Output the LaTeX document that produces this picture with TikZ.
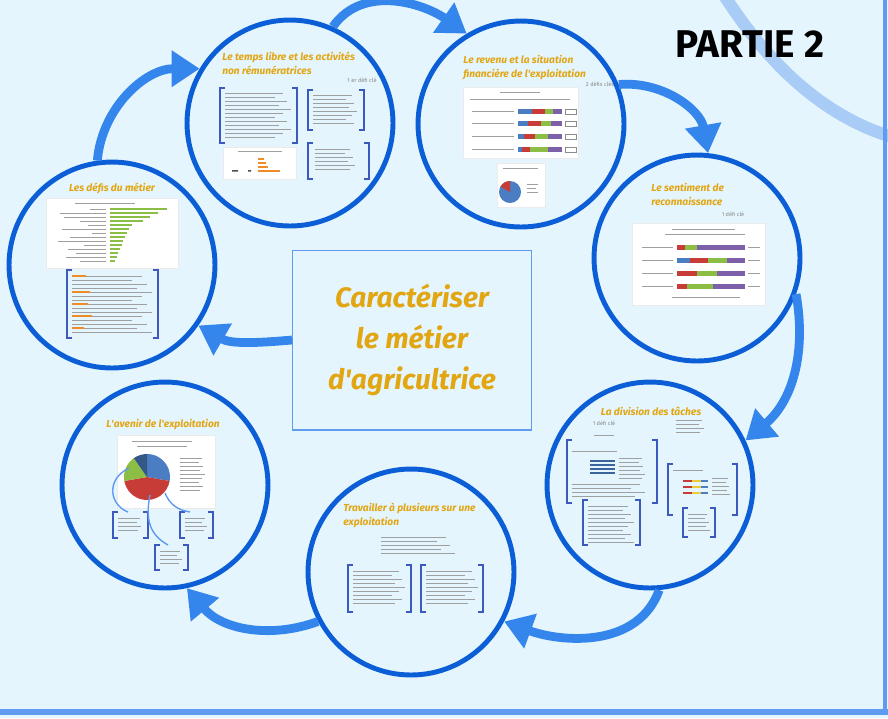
\documentclass[tikz,border=0pt]{standalone}
\usepackage{fontspec}
\setmainfont{Fira Sans}
\usetikzlibrary{positioning,arrows.meta,calc}
\definecolor{bgblue}{RGB}{228,245,253}
\definecolor{ringblue}{RGB}{12,94,215}
\definecolor{arrblue}{RGB}{52,134,236}
\definecolor{paleblue}{RGB}{168,204,246}
\definecolor{edgeblue}{RGB}{95,155,240}
\definecolor{titlegold}{RGB}{226,166,18}
\definecolor{brkblue}{RGB}{60,90,190}
\definecolor{txtgray}{RGB}{135,135,135}
\definecolor{barred}{RGB}{200,60,55}
\definecolor{bargreen}{RGB}{140,190,70}
\definecolor{barpurple}{RGB}{125,95,170}
\definecolor{barblue}{RGB}{75,125,195}
\definecolor{barorange}{RGB}{240,140,40}
\definecolor{baryellow}{RGB}{235,205,60}
\tikzset{
  ring/.style  = {circle, draw=ringblue, line width=2.8pt,
                  minimum size=4.12cm, inner sep=0pt},
  flow/.style  = {-{Triangle[length=16pt,width=20pt]}, line width=5pt, draw=arrblue},
  ttl/.style   = {font=\bfseries\itshape\fontsize{5.8}{7.8}\selectfont,
                  text=titlegold, align=left, inner sep=0pt},
  note/.style  = {font=\fontsize{3.2}{3.6}\selectfont, text=txtgray, inner sep=0pt},
  chart/.style = {fill=white, draw=black!8, line width=0.3pt},
  txt/.style   = {draw=txtgray!80, line width=0.5pt},
  brk/.style   = {draw=brkblue, line width=1pt}
}
% [ ] frame round a text block: x1 y1 x2 y2
\newcommand\bracketbox[4]{%
  \draw[brk] (#1+5,#2) -- (#1,#2) -- (#1,#4) -- (#1+5,#4);
  \draw[brk] (#3-5,#2) -- (#3,#2) -- (#3,#4) -- (#3-5,#4);}
% n grey lines standing for small text: x y width n
\newcommand\txtlines[4]{%
  \foreach \k in {1,...,#4}
    \draw[txt] (#1,{#2+4*(\k-1)}) -- ++({#3-mod(\k*7,5)*#3/16},0);}
\begin{document}
\begin{tikzpicture}[x=0.02cm, y=-0.02cm]
  \fill[bgblue] (0,0) rectangle (888,718);
  \useasboundingbox (0,0) rectangle (888,718);
  \draw[paleblue, line width=7pt] (722,-8) .. controls (765,60) and (820,115) .. (892,137);
  \draw[edgeblue, line width=2.2pt] (885,0) -- (885,712);
  \draw[edgeblue, line width=3.4pt] (0,712) -- (888,712);

  \node[font=\bfseries\fontsize{22}{22}\selectfont] (partie) at (750,44) {PARTIE 2};

  \node[draw=edgeblue, line width=0.6pt, minimum width=4.78cm, minimum height=3.6cm,
        font=\bfseries\itshape\fontsize{16}{23.5}\selectfont, text=titlegold,
        align=center] (centre) at (412,340) {Caractériser\\le métier\\d\textquotesingle agricultrice};

  \node[ring] (defis)     at (112,265) {};
  \node[ring] (temps)     at (290,123) {};
  \node[ring] (revenu)    at (521,124) {};
  \node[ring] (sentiment) at (697,258) {};
  \node[ring] (division)  at (650,485) {};
  \node[ring] (travail)   at (411,572) {};
  \node[ring] (avenir)    at (165,485) {};

  % arrows round the ring
  \draw[flow] (defis.98)       to[out=85, in=180]   (temps.149);
  \draw[flow] (temps.66)       to[out=55, in=145]   (revenu.121);
  \draw[flow] (revenu.22)      to[out=5, in=100]    (sentiment.84);
  \draw[flow] (sentiment.-20)  to[out=-80, in=40]   (division.25);
  \draw[flow] (division.-85)   to[out=-110, in=-20] (travail.-28);
  \draw[flow] (travail.208)    to[out=200, in=-50]  (avenir.-78);
  \draw[flow] (centre.west)    to[out=185, in=-30]  (defis.-35);

  % Les défis du métier
  \node[ttl] (defisT) at (112,188) {Les défis du métier};
  \fill[chart] (46,198) rectangle (178,268);
  \draw[txt] (75,203) -- (135,203);
  \foreach \y/\l/\s in {209/57/90, 213/48/60, 217/40/64, 221/33/80, 225/22/88, 229/19/62,
                        233/17/92, 237/15/70, 241/13/58, 245/12/84, 249/10/68, 253/8/76,
                        257/7/66, 261/5/80}
    { \fill[bargreen] (110,\y-1.2) rectangle ++(\l,2.4);
      \draw[txt, line width=0.4pt] (\s,\y) -- (106,\y); }
  \bracketbox{67}{270}{158}{338}
  \txtlines{72}{276}{80}{15}
  \foreach \y/\l in {276/14, 292/18, 304/16, 316/20, 328/12}
    \draw[barorange, line width=0.6pt] (72,\y) -- ++(\l,0);

  % Le temps libre et les activités non rémunératrices
  \node[ttl, anchor=north west] (tempsT) at (222,52) {Le temps libre et les activités\\non rémunératrices};
  \node[note] at (362,80) {1 er défi clé};
  \bracketbox{220}{88}{297}{143}
  \txtlines{225}{93}{66}{12}
  \bracketbox{308}{90}{364}{130}
  \txtlines{313}{95}{44}{8}
  \fill[chart] (223,147) rectangle (296,179);
  \draw[txt] (238,151) -- (282,151);
  \foreach \y/\l in {159/6, 163/8, 167/10, 171/22}
    \fill[barorange] (258,\y-1) rectangle ++(\l,2);
  \fill[black!70] (232,170) rectangle ++(6,1.5) (248,170) rectangle ++(3,1.5);
  \bracketbox{308}{143}{369}{179}
  \txtlines{315}{149}{40}{6}

  % Le revenu et la situation financière de l'exploitation
  \node[ttl, anchor=north west] (revenuT) at (463,55) {Le revenu et la situation\\financière de l\textquotesingle exploitation};
  \node[note] at (600,84) {2 défis clés};
  \fill[chart] (463,87) rectangle (578,158);
  \draw[txt] (500,92) -- (540,92);
  \draw[txt, line width=0.3pt] (470,99) -- (570,99);
  \foreach \y/\a/\b/\c in {109/532/545/553, 121/528/541/551, 134/524/535/548, 147/522/530/548}
    { \fill[barblue]   (518,\y) rectangle (\a,\y+5);
      \fill[barred]    (\a,\y)  rectangle (\b,\y+5);
      \fill[bargreen]  (\b,\y)  rectangle (\c,\y+5);
      \fill[barpurple] (\c,\y)  rectangle (562,\y+5);
      \draw[txt, line width=0.4pt] (472,\y+2.5) -- (514,\y+2.5);
      \draw[black!45, line width=0.3pt] (565,\y) rectangle (576,\y+5); }
  \fill[chart] (497,163) rectangle (545,207);
  \draw[txt] (503,168) -- (538,168);
  \fill[barblue] (510,192) circle[radius=11];
  \fill[barred] (510,192) -- ++(-90:11) arc[start angle=-90, end angle=-150, radius=11] -- cycle;
  \txtlines{527}{184}{12}{3}

  % Le sentiment de reconnaissance
  \node[ttl, anchor=north west] (sentimentT) at (651,183) {Le sentiment de\\reconnaissance};
  \node[note] at (733,214) {1 défi clé};
  \fill[chart] (632,223) rectangle (765,305);
  \draw[txt] (672,229) -- (735,229);
  \draw[txt, line width=0.3pt] (665,234) -- (745,234);
  \fill[barblue] (677,258) rectangle (690,263);
  \foreach \y/\a/\b/\c in {245/677/685/697, 258/690/708/727, 271/677/697/717, 284/677/687/713}
    { \fill[barred]    (\a,\y) rectangle (\b,\y+5);
      \fill[bargreen]  (\b,\y) rectangle (\c,\y+5);
      \fill[barpurple] (\c,\y) rectangle (745,\y+5);
      \draw[txt, line width=0.4pt] (642,\y+2.5) -- (673,\y+2.5);
      \draw[txt, line width=0.4pt] (748,\y+2.5) -- (760,\y+2.5); }
  \draw[txt, line width=0.3pt] (672,297) -- (740,297);

  % La division des tâches
  \node[ttl] (divisionT) at (651,411) {La division des tâches};
  \node[note] at (604,423) {1 défi clé};
  \draw[txt] (594,435) -- (614,435);
  \txtlines{676}{420}{30}{4}
  \bracketbox{567}{440}{657}{503}
  \draw[txt] (572,451) -- (617,451);
  \foreach \y in {461,465,469,473}
    \fill[barblue!80!black] (590,\y-0.8) rectangle (615,\y+0.8);
  \txtlines{619}{458}{26}{6}
  \txtlines{572}{484}{78}{4}
  \bracketbox{583}{500}{640}{545}
  \txtlines{588}{506}{46}{10}
  \bracketbox{668}{464}{737}{515}
  \draw[txt] (673,470) -- (703,470);
  \foreach \y in {481,487,493}
    { \fill[barred]    (683,\y-1) rectangle (692,\y+1);
      \fill[baryellow] (692,\y-1) rectangle (701,\y+1);
      \fill[barblue]   (701,\y-1) rectangle (708,\y+1); }
  \txtlines{712}{478}{18}{5}
  \bracketbox{683}{508}{715}{537}
  \txtlines{688}{514}{22}{5}

  % Travailler à plusieurs sur une exploitation
  \node[ttl, anchor=north west] (travailT) at (343,503) {Travailler à plusieurs sur une\\exploitation};
  \txtlines{381}{537}{74}{5}
  \bracketbox{348}{565}{411}{612}
  \txtlines{353}{571}{52}{9}
  \bracketbox{421}{565}{483}{612}
  \txtlines{426}{571}{52}{9}

  % L'avenir de l'exploitation
  \node[ttl] (avenirT) at (163,424) {L\textquotesingle avenir de l\textquotesingle exploitation};
  \fill[chart] (117,435) rectangle (215,508);
  \draw[txt] (132,441) -- (192,441);
  \draw[txt] (137,446) -- (187,446);
  \fill[barblue]  (147,477) -- ++(-90:23) arc[start angle=-90, end angle=10, radius=23] -- cycle;
  \fill[barred]   (147,477) -- ++(10:23) arc[start angle=10, end angle=170, radius=23] -- cycle;
  \fill[bargreen] (147,477) -- ++(170:23) arc[start angle=170, end angle=235, radius=23] -- cycle;
  \fill[barblue!70!black] (147,477) -- ++(235:23) arc[start angle=235, end angle=270, radius=23] -- cycle;
  \txtlines{180}{458}{25}{9}
  \bracketbox{113}{512}{148}{538}
  \bracketbox{180}{512}{213}{538}
  \bracketbox{155}{545}{188}{570}
  \txtlines{118}{518}{25}{4}
  \txtlines{185}{518}{23}{4}
  \txtlines{160}{551}{23}{4}
  \draw[edgeblue, line width=0.8pt] (129,468) .. controls (105,480) and (110,505) .. (128,512);
  \draw[edgeblue, line width=0.8pt] (150,495) .. controls (145,520) and (150,535) .. (168,545);
  \draw[edgeblue, line width=0.8pt] (165,493) .. controls (170,505) and (178,510) .. (190,512);
\end{tikzpicture}
\end{document}
